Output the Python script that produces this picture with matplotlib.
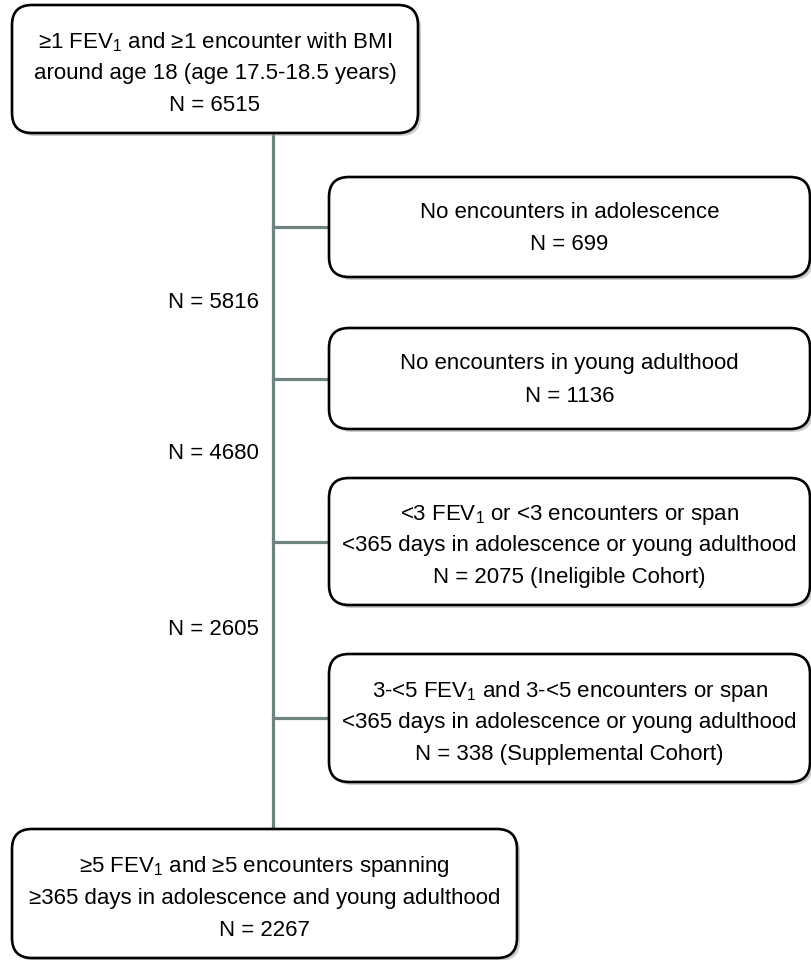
import matplotlib.pyplot as plt
from matplotlib.patches import FancyBboxPatch

plt.rcParams['font.family'] = ['Liberation Sans', 'DejaVu Sans']
plt.rcParams['mathtext.fontset'] = 'custom'
plt.rcParams['mathtext.rm'] = 'Liberation Sans'
plt.rcParams['mathtext.it'] = 'Liberation Sans'

# flowchart content
start_lines = ["≥1 FEV$_1$ and ≥1 encounter with BMI", "around age 18 (age 17.5-18.5 years)"]
start_n = 6515
excluded_lines = [
    ["No encounters in adolescence"],
    ["No encounters in young adulthood"],
    ["<3 FEV$_1$ or <3 encounters or span", "<365 days in adolescence or young adulthood"],
    ["3-<5 FEV$_1$ and 3-<5 encounters or span", "<365 days in adolescence or young adulthood"],
]
excluded_n = [699, 1136, 2075, 338]
excluded_tags = ["", "", " (Ineligible Cohort)", " (Supplemental Cohort)"]
remaining_n = [5816, 4680, 2605]
final_lines = ["≥5 FEV$_1$ and ≥5 encounters spanning", "≥365 days in adolescence and young adulthood"]
final_n = 2267

# layout (pixels, y downwards)
W, H = 812, 960
spine_x = 273
line_col = '#6f8480'
fs = 16

fig = plt.figure(figsize=(W / 100, H / 100), dpi=100)
ax = fig.add_axes([0, 0, 1, 1])
ax.set_xlim(0, W)
ax.set_ylim(H, 0)
ax.axis('off')


def draw_box(x0, y0, x1, y1, lines, r=20):
    shadow = FancyBboxPatch((x0 + 3, y0 + 3), x1 - x0, y1 - y0,
                            boxstyle=f"round,pad=0,rounding_size={r}",
                            fc='#a0a0a0', ec='none', alpha=0.5, zorder=2)
    ax.add_patch(shadow)
    box = FancyBboxPatch((x0, y0), x1 - x0, y1 - y0,
                         boxstyle=f"round,pad=0,rounding_size={r}",
                         fc='white', ec='black', lw=1.9, zorder=3)
    ax.add_patch(box)
    h = y1 - y0
    cx = (x0 + x1) / 2
    if len(lines) == 2:
        fr = [0.35, 0.68]
    else:
        fr = [0.29, 0.535, 0.785]
    for t, f in zip(lines, fr):
        ax.text(cx, y0 + f * h, t, ha='center', va='center', fontsize=fs, zorder=4)


# spine
top_box = (12, 5, 418, 133)
final_box = (12, 829, 517, 958)
ax.plot([spine_x, spine_x], [top_box[3], final_box[1]], color=line_col, lw=2.3, zorder=1)

draw_box(*top_box, start_lines + [f"N = {start_n}"])

right_boxes = [(329, 177, 810, 277), (329, 328, 810, 429), (329, 478, 810, 605), (329, 654, 810, 782)]
for (x0, y0, x1, y1), lines, n, tag in zip(right_boxes, excluded_lines, excluded_n, excluded_tags):
    cy = (y0 + y1) / 2
    ax.plot([spine_x, x0], [cy, cy], color=line_col, lw=2.3, zorder=1)
    draw_box(x0, y0, x1, y1, lines + [f"N = {n}{tag}"])

for i, n in enumerate(remaining_n):
    gy = (right_boxes[i][3] + right_boxes[i + 1][1]) / 2
    ax.text(259, gy, f"N = {n}", ha='right', va='center', fontsize=fs)

draw_box(*final_box, final_lines + [f"N = {final_n}"])

plt.savefig("out.png", dpi=100)
